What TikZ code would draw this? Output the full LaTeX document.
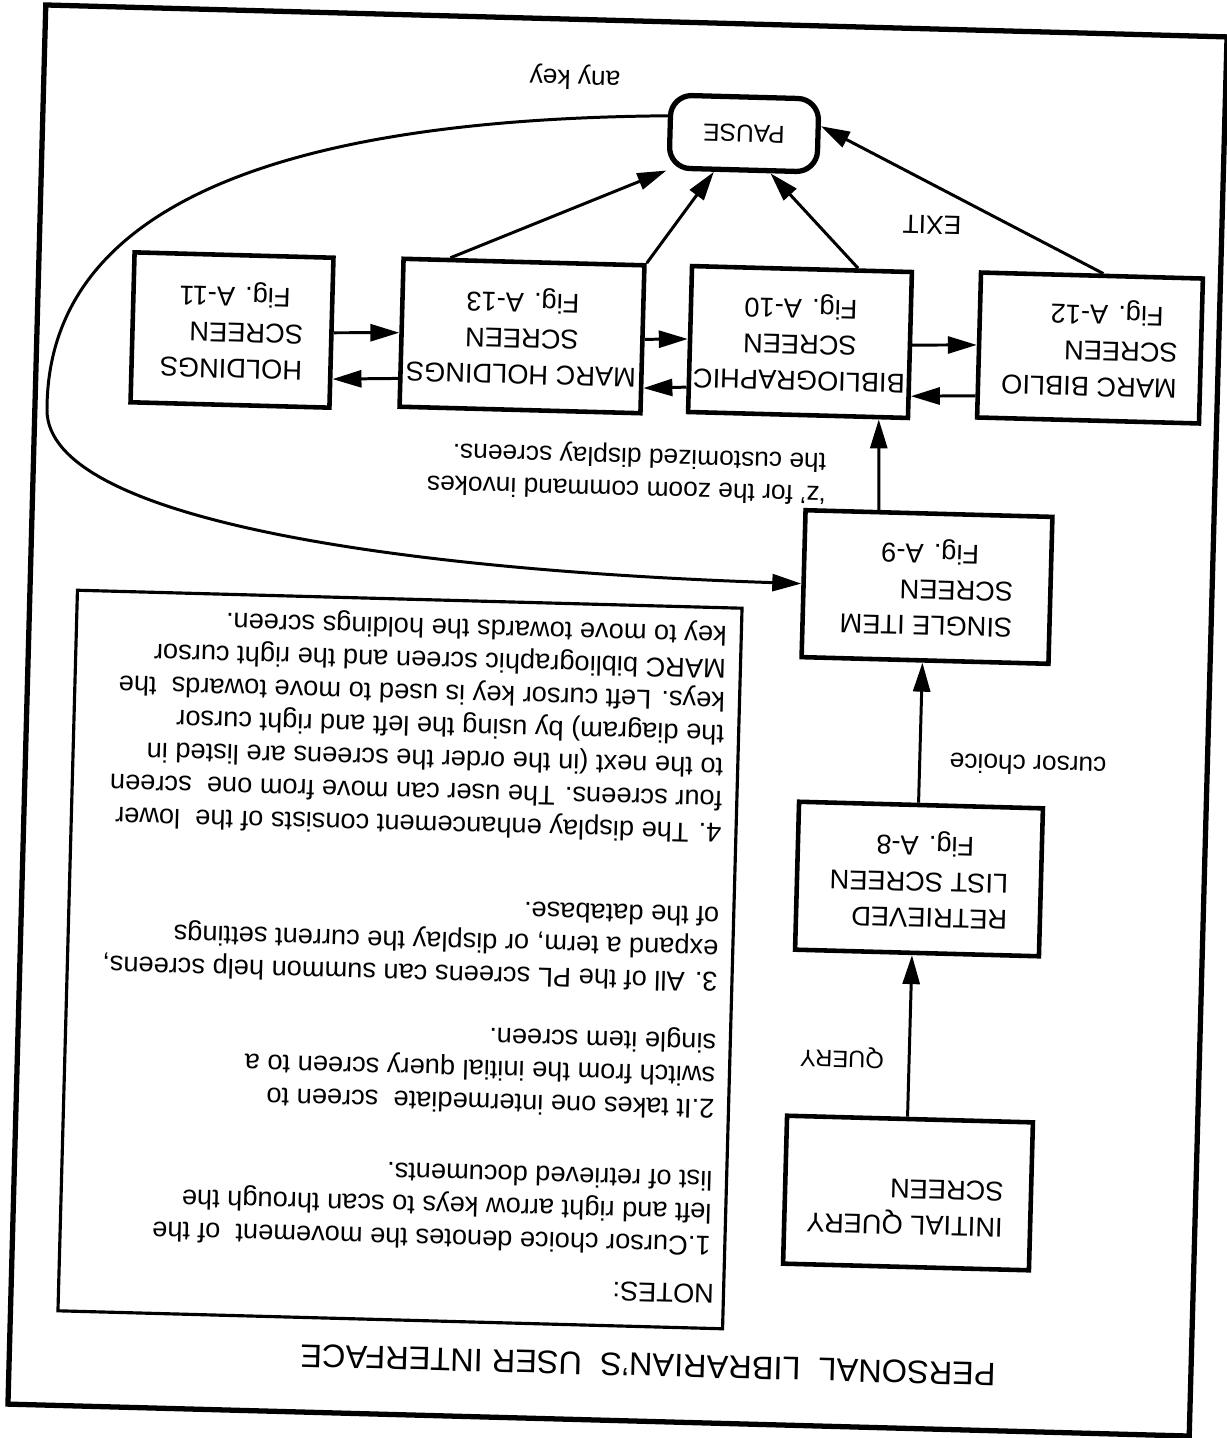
\documentclass[tikz,border=0pt]{standalone}
\usepackage{fontspec}
\setmainfont{Liberation Sans}
\usetikzlibrary{arrows.meta,calc}
\begin{document}
\begin{tikzpicture}[x=0.02cm,y=-0.02cm,
  tilt/.style={rotate=178.45},
  scr/.style={tilt, draw, line width=2.6pt, inner sep=0pt, align=left,
    font=\fontsize{15.5}{20.5}\selectfont},
  conn/.style={line width=1.7pt, -{Triangle[length=0.58cm,width=0.34cm]}},
  lbl/.style={tilt, inner sep=0pt, font=\fontsize{15}{18.5}\selectfont},
  note/.style={tilt, inner sep=0pt, anchor=north west, align=left,
    font=\fontsize{15.5}{18.7}\selectfont},
]
\fill[white] (0,0) rectangle (1227,1438);
\useasboundingbox (0,0) rectangle (1227,1438);

% outer frame
\node[tilt, draw, line width=3pt, minimum width=23.64cm, minimum height=28cm] (frame) at (617.5,720.5) {};

% title
\node[lbl, font=\fontsize{18.5}{22}\selectfont] (title) at (648,1365)
  {PERSONAL\ \ LIBRARIAN'S\ \ USER INTERFACE};

% screens
\node[scr, rounded corners=0.42cm, line width=3pt, minimum width=2.96cm,
  minimum height=1.46cm, align=center, font=\fontsize{14}{16}\selectfont]
  (pause) at (744,133.5) {PAUSE};
\node[scr, minimum width=4.44cm, minimum height=2.9cm] (mbib) at (1090,348)
  {MARC BIBLIO\\SCREEN\\\hspace*{0.3cm}Fig. A-12};
\node[scr, align=center, minimum width=4.4cm, minimum height=2.92cm] (bib) at (800,342)
  {BIBLIOGRAPHIC\\SCREEN\\Fig. A-10};
\node[scr, align=center, minimum width=4.82cm, minimum height=2.96cm] (mhold) at (522,336)
  {MARC HOLDINGS\\SCREEN\\Fig. A-13};
\node[scr, minimum width=3.98cm, minimum height=3.0cm] (hold) at (232,330)
  {HOLDINGS\\SCREEN\\\hspace*{0.27cm}Fig. A-11};
\node[scr, minimum width=4.94cm, minimum height=2.94cm] (si) at (927,587)
  {SINGLE ITEM\\SCREEN\\\hspace*{0.7cm}Fig. A-9};
\node[scr, minimum width=4.88cm, minimum height=2.96cm] (rl) at (919,879)
  {RETRIEVED\\LIST SCREEN\\\hspace*{0.7cm}Fig. A-8};
\node[scr, minimum width=4.92cm, minimum height=2.96cm] (iq) at (908,1193) {};
\node[lbl, align=left, font=\fontsize{15.5}{20.5}\selectfont] (iqtext) at (905,1207)
  {INITIAL QUERY\\SCREEN};

% notes panel
\node[tilt, draw, line width=1.8pt, minimum width=13.3cm, minimum height=14.42cm]
  (notes) at (400,959.5) {};
\node[note] (n0) at (714,1304) {NOTES:};
\node[note] (n1) at (710.6,1257) {1.Cursor choice denotes the movement\ \ of the\\
  left and right arrow keys to scan through the\\list of retrieved documents.};
\node[note] (n2) at (714.4,1120) {2.It takes one intermediate\ \ screen to\\
  switch from the initial query screen to a\\single item screen.};
\node[note] (n3) at (717.5,993) {3. All of the PL screens can summon help screens,\\
  expand a term, or display the current settings\\of the database.};
\node[note] (n4) at (721.4,844) {4. The display enhancement consists of the\ \ lower\\
  four screens. The user can move from one\ \ screen\\
  to the next (in the order the screens are listed in\\
  the diagram) by using the left and right cursor\\
  keys. Left cursor key is used to move towards\ \ the\\
  MARC bibliographic screen and the right cursor\\
  key to move towards the holdings screen.};

% edge labels
\node[lbl] (anykey) at (575,77) {any key};
\node[lbl] (exit) at (932,225) {EXIT};
\node[lbl, anchor=west, align=left] (zoomtxt) at (826,477)
  {`z' for the zoom command invokes\\the customized display screens.};
\node[lbl] (cc) at (1028,765) {cursor choice};
\node[lbl, font=\fontsize{13.5}{16}\selectfont] (query) at (842,1057) {QUERY};

% main chain
\draw[conn] ($(iq.south east)!0.49!(iq.south west)$) -- ($(rl.north east)!0.48!(rl.north west)$);
\draw[conn] ($(rl.south east)!0.49!(rl.south west)$) -- ($(si.north east)!0.49!(si.north west)$);
\draw[conn] ($(si.south east)!0.30!(si.south west)$) -- ($(bib.north east)!0.86!(bib.north west)$);

% cursor moves between the four display screens
\draw[conn] (hold.west) -- (mhold.east);
\draw[conn] ($(mhold.south east)!0.8!(mhold.north east)$) -- ($(hold.south west)!0.8!(hold.north west)$);
\draw[conn] (mhold.west) -- (bib.east);
\draw[conn] ($(bib.south east)!0.82!(bib.north east)$) -- ($(mhold.south west)!0.82!(mhold.north west)$);
\draw[conn] (bib.west) -- (mbib.east);
\draw[conn] ($(mbib.south east)!0.84!(mbib.north east)$) -- ($(bib.south west)!0.84!(bib.north west)$);

% exits to the pause screen
\draw[conn] ($(mhold.south east)!0.2!(mhold.south west)$) -- (pause.north east);
\draw[conn] (mhold.south west) -- ($(pause.north east)!0.31!(pause.north west)$);
\draw[conn] ($(bib.south east)!0.75!(bib.south west)$) -- ($(pause.north east)!0.68!(pause.north west)$);
\draw[conn] ($(mbib.south east)!0.55!(mbib.south west)$) -- ($(pause.south west)!0.38!(pause.north west)$);

% any key returns to the single item screen
\draw[conn] ($(pause.south east)!0.3!(pause.north east)$)
  .. controls (270,119) and (47,210) .. (47,410)
  .. controls (47,520) and (400,570) .. (si.east);
\end{tikzpicture}
\end{document}
